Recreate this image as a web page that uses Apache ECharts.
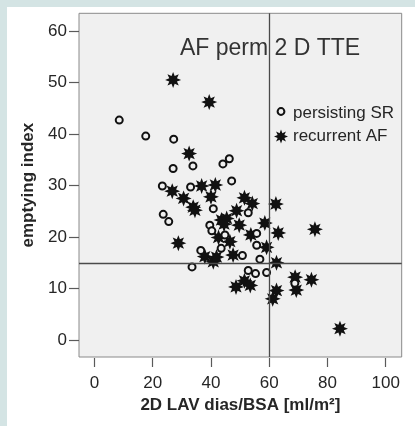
<!DOCTYPE html>
<html>
<head>
<meta charset="utf-8">
<script src="https://cdn.jsdelivr.net/npm/echarts@6/dist/echarts.min.js"></script>
<style>
html,body{margin:0;padding:0;background:#d4e4e4;width:415px;height:426px;overflow:hidden;}
#panel{position:absolute;left:7px;top:7px;width:408px;height:419px;background:#ffffff;}
#main{position:absolute;left:0;top:0;width:415px;height:426px;}
</style>
</head>
<body>
<div id="panel"></div>
<div id="main"></div>
<script>
// ---- data ----
const chartTitle = 'AF perm 2 D TTE';
const xAxisTitle = '2D LAV dias/BSA [ml/m²]';
const yAxisTitle = 'emptying index';
const seriesNames = ['persisting SR', 'recurrent AF'];
const xTicks = [0, 20, 40, 60, 80, 100];
const yTicks = [0, 10, 20, 30, 40, 50, 60];
const refX = 60;
const refY = 15;
const persistingSR = [
  [8.5,42.7],[17.6,39.6],[27.2,39.0],[27.0,33.3],[33.8,33.8],[44.1,34.2],[46.3,35.2],
  [47.1,30.9],[23.3,29.9],[33.0,29.7],[40.8,25.5],[23.6,24.4],[25.5,23.0],[52.8,24.7],
  [39.6,22.3],[40.3,21.2],[44.8,20.4],[55.7,20.7],[55.7,18.4],[36.5,17.4],[43.5,17.8],
  [50.8,16.4],[56.8,15.7],[33.5,14.2],[52.8,13.5],[55.3,12.9],[59.1,13.1],[68.8,11.0]
];
const recurrentAF = [
  [27.0,50.5],[39.4,46.2],[32.5,36.2],[36.8,29.9],[41.5,30.1],[26.7,28.9],[30.6,27.5],
  [40.0,27.8],[33.9,25.8],[34.5,25.2],[51.5,27.6],[54.2,26.5],[62.3,26.4],[48.8,25.1],
  [43.6,23.3],[45.4,23.6],[44.5,22.5],[49.7,22.3],[58.5,22.7],[63.1,20.8],[75.7,21.5],
  [53.7,20.4],[42.6,19.9],[46.5,19.1],[28.8,18.8],[59.1,18.0],[47.6,16.5],[37.9,16.2],
  [40.8,15.2],[41.9,16.1],[62.5,15.0],[48.6,10.3],[51.5,11.5],[53.5,10.6],[62.5,9.6],
  [61.2,8.0],[68.9,12.2],[69.3,9.7],[74.5,11.7],[84.3,2.2]
];

// ---- styling helpers ----
function starPath(n, ro, ri) {
  let d = '';
  for (let i = 0; i < 2 * n; i++) {
    const a = -Math.PI / 2 + i * Math.PI / n;
    const r = (i % 2) ? ri : ro;
    const x = ro + r * Math.cos(a), y = ro + r * Math.sin(a);
    d += (i ? 'L' : 'M') + x.toFixed(2) + ',' + y.toFixed(2);
  }
  return 'path://' + d + 'Z';
}
const STAR = starPath(8, 10, 5.2);
// small circle placed a little above centre inside a 14x14 legend box
const LEGEND_CIRCLE = 'path://M0,0M14,14M3.6,5A3.4,3.4 0 1,1 10.4,5A3.4,3.4 0 1,1 3.6,5Z';
const FONT = "'Liberation Sans', Arial, sans-serif";
const TXT = '#262626';
const AX = '#5a5a5a';

const chart = echarts.init(document.getElementById('main'), null, {renderer: 'canvas'});
chart.setOption({
  animation: false,
  textStyle: {fontFamily: FONT},
  title: {
    text: chartTitle, left: 180, top: 37, padding: 0,
    textStyle: {fontSize: 23, fontWeight: 'normal', color: '#333', fontFamily: FONT}
  },
  legend: {
    orient: 'vertical', left: 273, top: 105, itemGap: 6, padding: 0,
    itemWidth: 14, itemHeight: 14,
    textStyle: {fontSize: 17, color: TXT, fontFamily: FONT},
    data: [
      {name: seriesNames[0], icon: LEGEND_CIRCLE, itemStyle: {color: '#f0f0f0', borderColor: '#111', borderWidth: 2}},
      {name: seriesNames[1], icon: STAR, itemStyle: {color: '#111', borderWidth: 0}}
    ]
  },
  grid: {
    left: 79, right: 13.3, top: 13.3, bottom: 69,
    show: true, backgroundColor: '#f0f0f0', borderColor: '#8a8a8a', borderWidth: 1
  },
  xAxis: {
    type: 'value', min: -5.32, max: 105.5, offset: 1,
    splitLine: {show: false},
    axisLine: {show: false, onZero: false},
    axisTick: {show: true, inside: false, length: 9, customValues: xTicks, lineStyle: {color: AX, width: 1.2}},
    axisLabel: {customValues: xTicks, margin: 17, fontSize: 17, color: TXT, fontFamily: FONT},
    name: xAxisTitle, nameLocation: 'middle', nameGap: 38,
    nameTextStyle: {fontSize: 17, fontWeight: 'bold', color: TXT, fontFamily: FONT}
  },
  yAxis: {
    type: 'value', min: -3.3, max: 63.44,
    splitLine: {show: false},
    axisLine: {show: false, onZero: false},
    axisTick: {show: true, inside: false, length: 10, customValues: yTicks, lineStyle: {color: AX, width: 1.2}},
    axisLabel: {customValues: yTicks, margin: 12, fontSize: 17, color: TXT, fontFamily: FONT},
    name: yAxisTitle, nameLocation: 'middle', nameGap: 40, nameRotate: 90,
    nameTextStyle: {fontSize: 17, fontWeight: 'bold', color: TXT, fontFamily: FONT}
  },
  series: [
    {
      name: seriesNames[1], type: 'scatter', data: recurrentAF, z: 2,
      symbol: STAR, symbolSize: 16,
      itemStyle: {color: '#111', opacity: 1},
      markLine: {
        silent: true, symbol: 'none', animation: false,
        label: {show: false},
        lineStyle: {color: '#4a4a4a', width: 1.3, type: 'solid'},
        data: [{xAxis: refX}, {yAxis: refY}]
      }
    },
    {
      name: seriesNames[0], type: 'scatter', data: persistingSR, z: 3,
      symbol: 'circle', symbolSize: 7,
      itemStyle: {color: '#f0f0f0', borderColor: '#111', borderWidth: 2, opacity: 1}
    }
  ]
});
</script>
</body>
</html>
